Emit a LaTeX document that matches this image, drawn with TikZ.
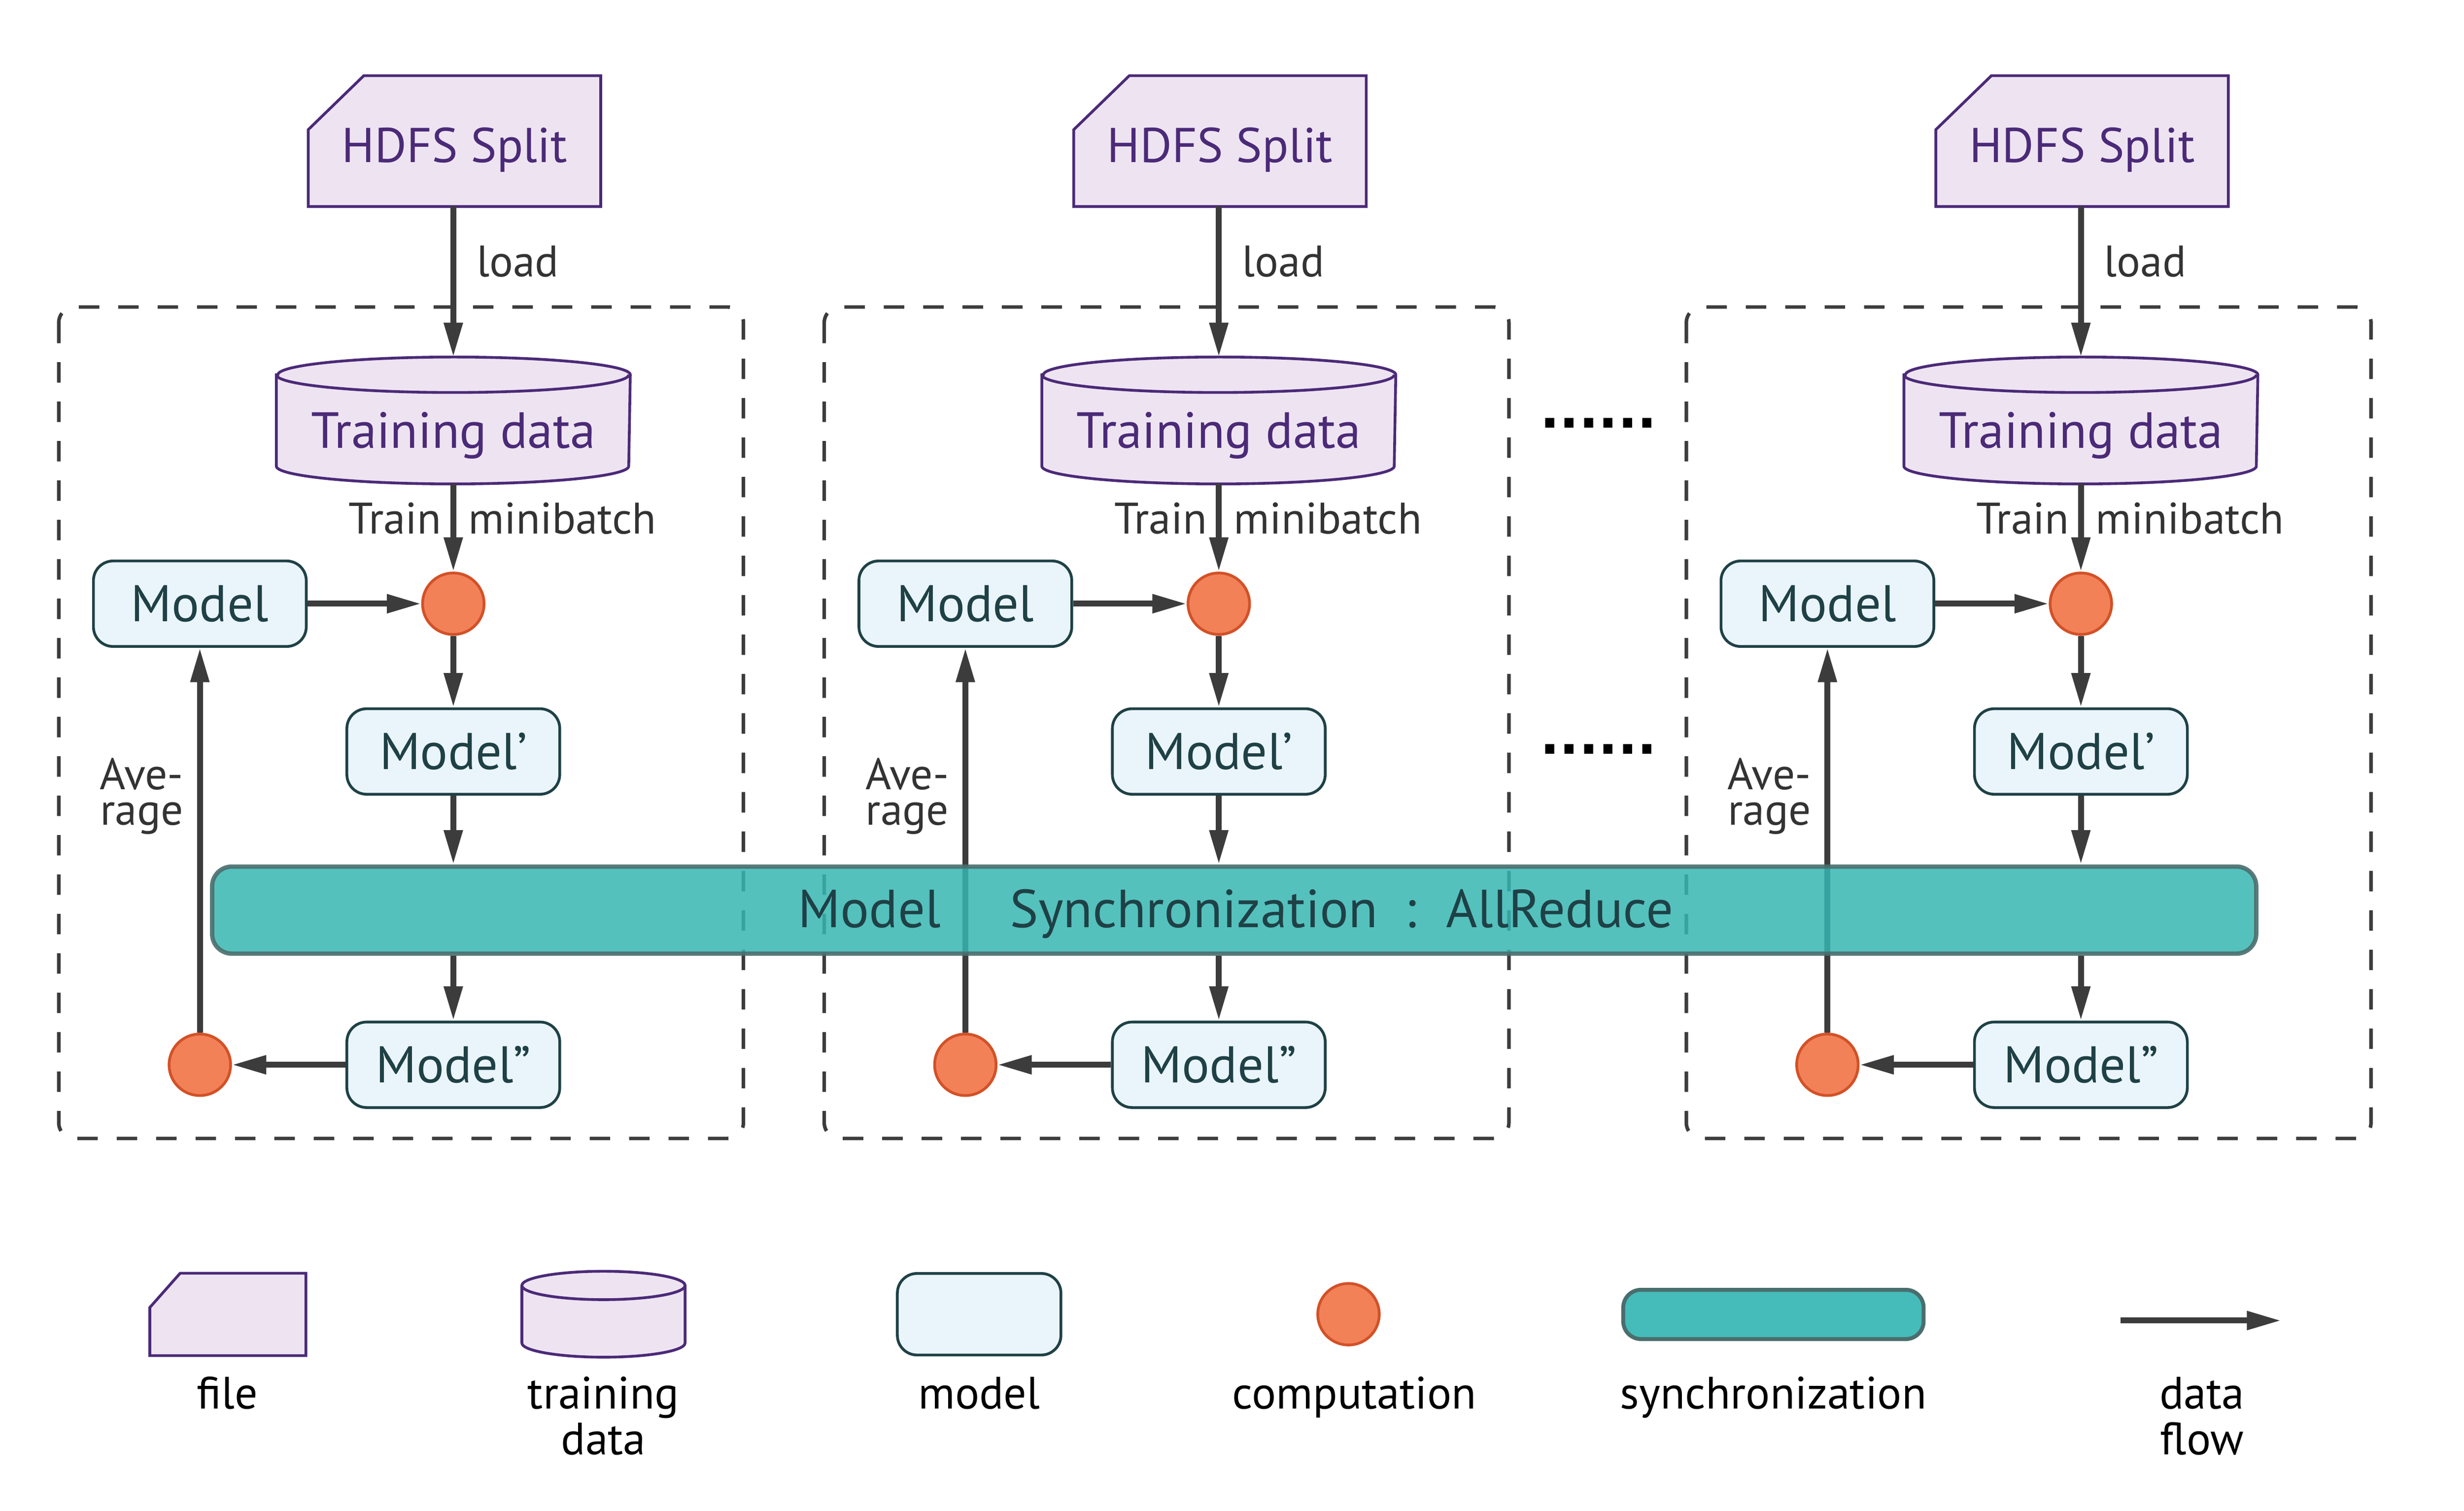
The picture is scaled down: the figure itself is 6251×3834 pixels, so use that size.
\documentclass[tikz,border=0pt]{standalone}
\usepackage{fontspec}
\setmainfont{PT Sans}
\newfontfamily\dotfont{DejaVu Sans}
\usetikzlibrary{arrows.meta,backgrounds}
\definecolor{filefill}{HTML}{EEE4F1}
\definecolor{filedraw}{HTML}{4B2A78}
\definecolor{modelfill}{HTML}{EAF5FB}
\definecolor{modeldraw}{HTML}{1F4146}
\definecolor{compfill}{HTML}{F28158}
\definecolor{compdraw}{HTML}{D35127}
\definecolor{syncfill}{HTML}{45BCB9}
\definecolor{syncbarfill}{HTML}{36B6B2}
\definecolor{syncdraw}{HTML}{4A6E6E}
\definecolor{flowcol}{HTML}{3C3C3C}
\definecolor{labelcol}{HTML}{333333}
\begin{document}
\begin{tikzpicture}[x=0.1pt,y=-0.1pt,
  filebox/.style={rectangle, inner sep=0pt, minimum width=73.8pt, minimum height=32.8pt, text height=10.8pt, text depth=0pt, text=filedraw, font=\fontsize{12.4}{14}\selectfont},
  cylbox/.style={rectangle, inner sep=0pt, minimum width=89.4pt, minimum height=31.8pt, text height=14pt, text depth=0pt, text=filedraw, font=\fontsize{12.9}{15}\selectfont},
  shapefill/.style={fill=filefill, draw=filedraw, line width=0.7pt},
  modelbox/.style={rectangle, rounded corners=5pt, fill=modelfill, draw=modeldraw, line width=0.7pt, minimum width=54pt, minimum height=21.7pt, inner sep=0pt, text=modeldraw, font=\fontsize{13.1}{15}\selectfont},
  comp/.style={circle, fill=compfill, draw=compdraw, line width=0.7pt, minimum size=15.6pt, inner sep=0pt},
  flow/.style={draw=flowcol, line width=1.5pt, -{Triangle[length=8.7pt,width=4.5pt]}},
  dashbox/.style={draw=flowcol, line width=0.9pt, dash pattern=on 5.2pt off 4.8pt, rounded corners=4pt},
  lbl/.style={text=labelcol, inner sep=0pt, font=\fontsize{11.2}{13}\selectfont},
  avlbl/.style={text=labelcol, inner sep=0pt, font=\fontsize{11.2}{9}\selectfont},
  synclbl/.style={text=modeldraw, inner sep=0pt, font=\fontsize{13.6}{15}\selectfont},
  syncbar/.style={rectangle, rounded corners=5pt, fill=syncbarfill, fill opacity=0.85, draw=syncdraw, draw opacity=0.9, line width=1.1pt, minimum width=518.6pt, minimum height=22.1pt, inner sep=0pt},
  dotstyle/.style={inner sep=0pt, font=\dotfont\bfseries\fontsize{13}{15}\selectfont},
  legtext/.style={inner sep=0pt, text=black, font=\fontsize{11.5}{11.6}\selectfont},
]
\useasboundingbox (0,0) rectangle (6251,3834);

\foreach \k/\cx in {1/1150,2/3092,3/5279} {
  \draw[dashbox] (\cx-1001,779) rectangle (\cx+736,2889);
  \node[filebox] (f\k) at (\cx+3,358) {HDFS Split};
  \node[cylbox] (t\k) at (\cx,1067) {Training data};
  \begin{pgfonlayer}{background}
    \path[shapefill] (f\k.south west) -- (f\k.south east) -- (f\k.north east)
      -- ([xshift=14.1pt]f\k.north west) -- ([yshift=-13.7pt]f\k.north west) -- cycle;
    \path[shapefill] ([yshift=-4.5pt]t\k.north west) -- ([yshift=4.5pt]t\k.south west)
      arc[start angle=180, end angle=0, x radius=447, y radius=45]
      -- ([yshift=-4.5pt]t\k.north east)
      arc[start angle=0, end angle=-180, x radius=447, y radius=45] -- cycle;
    \draw[draw=filedraw, line width=0.7pt] ([yshift=-4.5pt]t\k.north west)
      arc[start angle=180, end angle=0, x radius=447, y radius=45];
  \end{pgfonlayer}
  \node[comp] (p\k) at (\cx,1532) {};
  \node[modelbox] (m\k) at (\cx-643,1532) {Model};
  \node[modelbox] (ma\k) at (\cx,1907) {Model’};
  \node[modelbox] (mb\k) at (\cx,2702) {Model”};
  \node[comp] (q\k) at (\cx-643,2702) {};
  \draw[flow] (f\k.south -| t\k.north) -- (t\k.north);
  \draw[flow] (t\k.south) -- (p\k.north);
  \draw[flow] (m\k.east) -- (p\k.west);
  \draw[flow] (p\k.south) -- (ma\k.north);
  \draw[flow] (mb\k.west) -- (q\k.east);
  \draw[flow] (q\k.north) -- (m\k.south);
  \node[lbl, anchor=base west] (ld\k) at (\cx+57,702) {load};
  \node[lbl, anchor=base east] (tr\k) at (\cx-28,1355) {Train};
  \node[lbl, anchor=base west] (mn\k) at (\cx+36,1355) {minibatch};
  \node[avlbl, anchor=base east] (av\k) at (\cx-683,2003) {\begin{tabular}[t]{@{}r@{}}Ave-\\rage\end{tabular}};
}

\node[syncbar] (bar) at (3131,2309.5) {};
\foreach \k in {1,2,3} {
  \draw[flow] (ma\k.south) -- (ma\k.south |- bar.north);
  \draw[flow] (mb\k.north |- bar.south) -- (mb\k.north);
}
\node[synclbl, anchor=base] (s1) at (2206,2353) {Model};
\node[synclbl, anchor=base] (s2) at (3029,2353) {Synchronization};
\node[synclbl, anchor=base] (s3) at (3579,2353) {:};
\node[synclbl, anchor=base] (s4) at (3957,2353) {AllReduce};

\node[dotstyle, anchor=base] (d1) at (4055,1086) {......};
\node[dotstyle, anchor=base] (d2) at (4055,1913) {......};

% legend
\path[shapefill] (380,3440) -- (776,3440) -- (776,3231) -- (457,3231) -- (380,3318) -- cycle;
\path[shapefill] (1324,3262) -- (1324,3408)
  arc[start angle=180, end angle=0, x radius=207, y radius=36] -- (1738,3262)
  arc[start angle=0, end angle=-180, x radius=207, y radius=36] -- cycle;
\draw[draw=filedraw, line width=0.7pt] (1324,3262) arc[start angle=180, end angle=0, x radius=207, y radius=36];
\node[modelbox, minimum width=41.5pt, minimum height=20.7pt] (lm) at (2484,3335) {};
\node[comp] (lc) at (3421,3335) {};
\node[rectangle, rounded corners=4.5pt, fill=syncfill, draw=syncdraw, line width=1pt, minimum width=76.2pt, minimum height=12.5pt, inner sep=0pt] (ls) at (4499,3335.5) {};
\coordinate (la1) at (5380,3351);
\coordinate (la2) at (5787,3351);
\draw[flow] (la1) -- (la2);

\node[legtext, anchor=base] (lt1) at (577,3575) {file};
\node[legtext, anchor=base] (lt2) at (1531,3575) {\begin{tabular}[t]{@{}c@{}}training\\data\end{tabular}};
\node[legtext, anchor=base] (lt3) at (2484,3575) {model};
\node[legtext, anchor=base] (lt4) at (3436,3575) {computation};
\node[legtext, anchor=base] (lt5) at (4499,3575) {synchronization};
\node[legtext, anchor=base] (lt6) at (5586,3575) {\begin{tabular}[t]{@{}c@{}}data\\flow\end{tabular}};
\end{tikzpicture}
\end{document}
